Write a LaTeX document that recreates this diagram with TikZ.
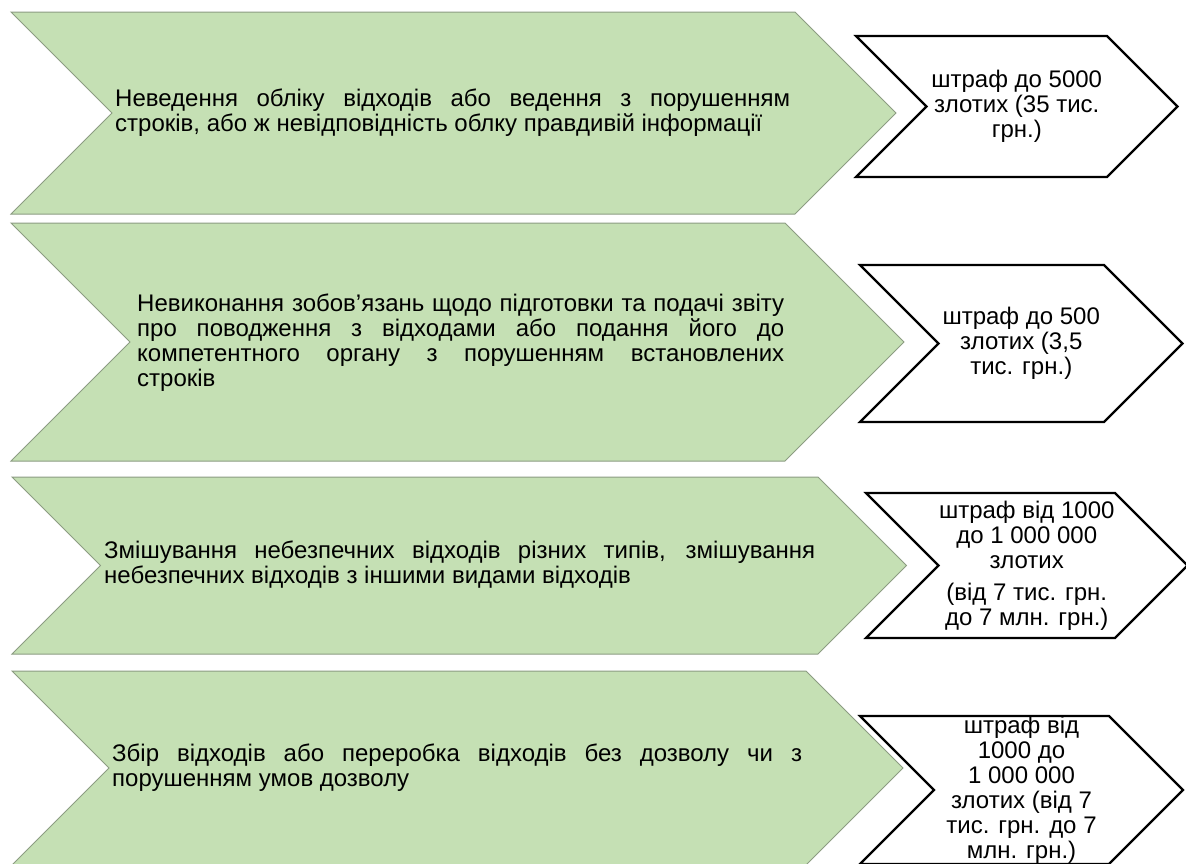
\documentclass[tikz,border=0pt]{standalone}
\usepackage{fontspec}
\setmainfont{Liberation Sans}
\definecolor{chevgreen}{HTML}{C5E0B4}
\definecolor{chevline}{HTML}{8C9C82}
% #1 style, #2 name, #3 left, #4 right, #5 top, #6 bottom
\newcommand{\chev}[6]{%
  \pgfmathsetmacro{\chevmid}{(#5+#6)/2}%
  \pgfmathsetmacro{\chevdepth}{(#6-#5)/2}%
  \path[#1] (#3,#5) -- (#4,#5) -- ({#4+\chevdepth},\chevmid) -- (#4,#6)
    -- (#3,#6) -- ({#3+\chevdepth},\chevmid) -- cycle;
  \coordinate (#2) at ({(#3+#4+\chevdepth)/2},\chevmid);
}
\tikzset{
  violation/.style={fill=chevgreen, draw=chevline, line width=1pt},
  penalty/.style={fill=white, draw=black, line width=2.2pt},
  violtext/.style={anchor=west, align=justify, inner sep=0pt,
    font=\fontsize{24}{25}\selectfont},
  pentext/.style={align=center, inner sep=0pt,
    font=\fontsize{24}{25}\selectfont},
}

\begin{document}
\begin{tikzpicture}[x=1pt, y=-1pt]
	\useasboundingbox (0,0) rectangle (1186,863);
	\clip (0,0) rectangle (1186,863);
	% violations
	\chev{violation}{g1}{11}{795}{12}{214}
	\chev{violation}{g2}{11}{785}{223}{461}
	\chev{violation}{g3}{12}{818}{477}{654}
	\chev{violation}{g4}{12}{806}{671}{865}
	% penalties
	\chev{penalty}{w1}{856}{1107}{36}{177}
	\chev{penalty}{w2}{860}{1104}{265}{422}
	\chev{penalty}{w3}{866}{1115}{493}{638}
	\chev{penalty}{w4}{860}{1109}{716}{864}

	\node[violtext, text width=675pt] (v1) at (115,113)
		{Неведення обліку відходів або ведення з порушенням\linebreak
		строків, або ж невідповідність облку правдивій інформації};
	\node[violtext, text width=647pt] (v2) at (137,343)
		{Невиконання зобов’язань щодо підготовки та подачі звіту\linebreak
		про поводження з відходами або подання його до\linebreak
		компетентного органу з порушенням встановлених\linebreak
		строків};
	\node[violtext, text width=711pt] (v3) at (104,565)
		{Змішування небезпечних відходів різних типів, змішування\linebreak
		небезпечних відходів з іншими видами відходів};
	\node[violtext, text width=690pt] (v4) at (112,768)
		{Збір відходів або переробка відходів без дозволу чи з\linebreak
		порушенням умов дозволу};

	\node[pentext] (p1) at (w1) {штраф до 5000\\ злотих (35 тис.\\ грн.)};
	\node[pentext] (p2) at (w2) {штраф до 500\\ злотих (3,5\\ тис. грн.)};
	\node[pentext] (p3) at (w3) {штраф від 1000\\ до 1 000 000\\ злотих\\[7pt]
		(від 7 тис. грн.\\ до 7 млн. грн.)};
	\node[pentext] (p4) at (w4) {штраф від\\ 1000 до\\ 1 000 000\\ злотих (від 7\\
		тис. грн. до 7\\ млн. грн.)};
\end{tikzpicture}
\end{document}
